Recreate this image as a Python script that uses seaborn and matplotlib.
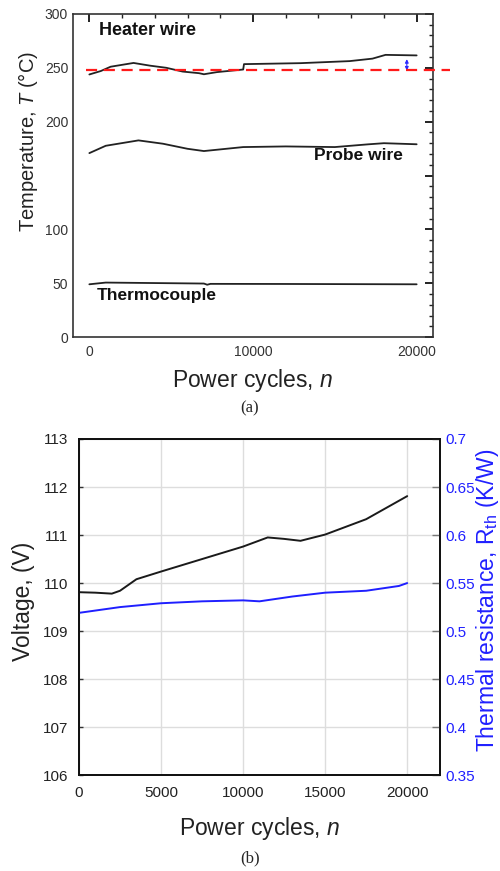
import matplotlib
matplotlib.use("Agg")
import matplotlib.pyplot as plt
import seaborn as sns
import pandas as pd
from matplotlib.ticker import MultipleLocator

# ---------------- data: panel (a) ----------------
heater_n = [0, 700, 1300, 2700, 3700, 4700, 5700, 6700, 7000, 7800, 9400, 9450, 12900, 15900, 17300, 18100, 20000]
heater_T = [243.8, 247.0, 251.0, 254.5, 252.0, 250.0, 246.5, 245.0, 244.0, 246.0, 248.4, 253.4, 254.3, 256.2, 258.5, 262.0, 261.5]
probe_n = [0, 1000, 3000, 4500, 6000, 7000, 9400, 12000, 15000, 17000, 18000, 20000]
probe_T = [170.8, 177.6, 182.6, 179.5, 174.8, 172.7, 176.4, 177.0, 176.4, 178.9, 180.0, 179.0]
tc_n = [0, 1000, 7000, 7200, 7400, 12000, 20000]
tc_T = [49.0, 50.6, 49.7, 48.6, 49.4, 49.3, 49.0]
ref_T = 247.5
arrow_n = 19400
arrow_T = [247.5, 258.0]

# ---------------- data: panel (b) ----------------
volt_n = [0, 1000, 2000, 2500, 3500, 5000, 7500, 10000, 11500, 12500, 13500, 15000, 17500, 20000]
volt_V = [109.81, 109.80, 109.78, 109.84, 110.08, 110.24, 110.50, 110.76, 110.95, 110.92, 110.88, 111.01, 111.33, 111.81]
rth_n = [0, 2500, 5000, 7500, 10000, 11000, 13000, 15000, 17500, 19500, 20000]
rth_R = [0.519, 0.525, 0.529, 0.531, 0.532, 0.531, 0.536, 0.540, 0.542, 0.547, 0.550]

sns.set_theme(style="white")
plt.rcParams["font.family"] = ["Liberation Sans", "DejaVu Sans"]
plt.rcParams["mathtext.fontset"] = "custom"
plt.rcParams["mathtext.rm"] = "Liberation Sans"
plt.rcParams["mathtext.it"] = "Liberation Sans:italic"

fig = plt.figure(figsize=(5.0, 8.71), dpi=100)

# ================= panel (a) =================
axA = fig.add_axes([0.146, 0.613, 0.720, 0.371])
dfh = pd.DataFrame({"n": heater_n, "T": heater_T})
dfp = pd.DataFrame({"n": probe_n, "T": probe_T})
dft = pd.DataFrame({"n": tc_n, "T": tc_T})
for d in (dfh, dfp, dft):
    sns.lineplot(data=d, x="n", y="T", ax=axA, color="#222222", lw=1.3,
                 estimator=None, sort=False)
axA.axhline(ref_T, xmin=0.036, xmax=1.047, color="#ff1a1a", lw=1.6,
            ls=(0, (5, 3)), clip_on=False, zorder=5)
axA.annotate("", xy=(arrow_n, arrow_T[1]), xytext=(arrow_n, arrow_T[0]),
             arrowprops=dict(arrowstyle="<|-|>", color="#2a2aff", lw=0.8,
                             mutation_scale=5, shrinkA=0, shrinkB=0))
axA.set_xlim(-1000, 21000)
axA.set_ylim(0, 300)
axA.xaxis.set_major_locator(MultipleLocator(10000))
axA.xaxis.set_minor_locator(MultipleLocator(2000))
axA.yaxis.set_major_locator(MultipleLocator(50))
axA.yaxis.set_minor_locator(MultipleLocator(10))
axA.set_yticks([0, 50, 100, 150, 200, 250, 300])
axA.set_yticklabels(["0", "50", "100", "", "200", "250", "300"])
axA.tick_params(axis="both", which="major", direction="in", length=6, width=1.4,
                top=True, right=True, labelsize=10, labelcolor="#333333", color="#222222")
axA.tick_params(axis="both", which="minor", direction="in", length=3, width=1.0,
                top=True, right=True, color="#222222")
axA.tick_params(axis="x", which="major", pad=6)
for s in axA.spines.values():
    s.set_color("#333333")
    s.set_linewidth(1.2)
axA.set_xlabel("Power cycles, $\\mathit{n}$", fontsize=16.5, color="#222222")
axA.set_ylabel("Temperature, $\\mathit{T}$ (°C)", fontsize=14.5, color="#222222")
axA.xaxis.set_label_coords(0.5, -0.093)
axA.yaxis.set_label_coords(-0.092, 0.604)
axA.text(600, 285, "Heater wire", fontsize=13, fontweight="bold", va="center", color="#111111")
axA.text(13700, 168.5, "Probe wire", fontsize=12.5, fontweight="bold", va="center", color="#111111")
axA.text(450, 39, "Thermocouple", fontsize=12.5, fontweight="bold", va="center", color="#111111")
fig.text(0.5, 1 - 408 / 871, "(a)", ha="center", va="center", fontsize=12,
         family=["Liberation Serif"])

# ================= panel (b) =================
axB = fig.add_axes([0.158, 0.110, 0.722, 0.386])
dfv = pd.DataFrame({"n": volt_n, "V": volt_V})
sns.lineplot(data=dfv, x="n", y="V", ax=axB, color="#1a1a1a", lw=1.4, estimator=None)
axB.set_xlim(0, 22000)
axB.set_ylim(106, 113)
axB.set_xticks([0, 5000, 10000, 15000, 20000])
axB.set_yticks([106, 107, 108, 109, 110, 111, 112, 113])
axB.grid(True, color="#dddddd", lw=1.0)
axB.tick_params(axis="both", direction="in", length=3, width=1.0, labelsize=11,
                labelcolor="#222222", color="#333333", pad=8)
for s in axB.spines.values():
    s.set_color("#111111")
    s.set_linewidth(1.3)
axB.set_xlabel("Power cycles, $\\mathit{n}$", fontsize=16.5, color="#222222")
axB.set_ylabel("Voltage, (V)", fontsize=16.5, color="#222222")
axB.xaxis.set_label_coords(0.5, -0.118)
axB.yaxis.set_label_coords(-0.122, 0.518)

axR = axB.twinx()
dfr = pd.DataFrame({"n": rth_n, "R": rth_R})
sns.lineplot(data=dfr, x="n", y="R", ax=axR, color="#1f1fff", lw=1.4, estimator=None)
axR.set_ylim(0.35, 0.70)
axR.set_yticks([0.35, 0.40, 0.45, 0.50, 0.55, 0.60, 0.65, 0.70])
axR.set_yticklabels(["0.35", "0.4", "0.45", "0.5", "0.55", "0.6", "0.65", "0.7"])
axR.tick_params(axis="y", direction="in", length=6, width=1.0, labelsize=11,
                labelcolor="#2020ff", color="#777777", pad=4)
axR.set_ylabel("Thermal resistance, R$_{\\mathrm{th}}$ (K/W)", fontsize=16.5, color="#2020ff")
axR.yaxis.set_label_coords(1.094, 0.52)
axR.grid(False)
for s in axR.spines.values():
    s.set_color("#111111")
    s.set_linewidth(1.3)
fig.text(0.5, 1 - 858 / 871, "(b)", ha="center", va="center", fontsize=12,
         family=["Liberation Serif"])

fig.savefig("out.png", dpi=100)
